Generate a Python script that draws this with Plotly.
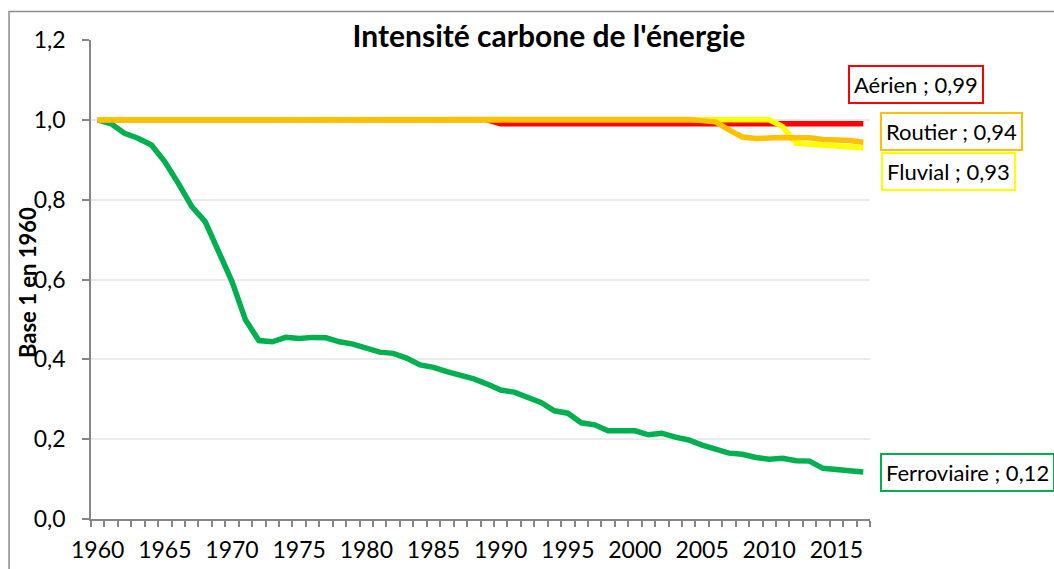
import plotly.graph_objects as go

years = list(range(1960, 2018))

ferroviaire = [1.000, 0.990, 0.966, 0.954, 0.937, 0.895, 0.841, 0.783, 0.745, 0.670,
               0.595, 0.499, 0.447, 0.444, 0.455, 0.452, 0.455, 0.454, 0.444, 0.438,
               0.428, 0.418, 0.415, 0.403, 0.386, 0.380, 0.369, 0.361, 0.351, 0.338,
               0.323, 0.318, 0.305, 0.292, 0.271, 0.265, 0.241, 0.236, 0.221, 0.221,
               0.221, 0.211, 0.215, 0.205, 0.198, 0.185, 0.175, 0.165, 0.162, 0.154,
               0.150, 0.152, 0.146, 0.145, 0.127, 0.125, 0.120, 0.118]

aerien = [1.000, 1.000, 1.000, 1.000, 1.000, 1.000, 1.000, 1.000, 1.000, 1.000,
          1.000, 1.000, 1.000, 1.000, 1.000, 1.000, 1.000, 1.000, 1.000, 1.000,
          1.000, 1.000, 1.000, 1.000, 1.000, 1.000, 1.000, 1.000, 1.000, 1.000,
          0.990, 0.990, 0.990, 0.990, 0.990, 0.990, 0.990, 0.990, 0.990, 0.990,
          0.990, 0.990, 0.990, 0.990, 0.990, 0.990, 0.990, 0.990, 0.990, 0.990,
          0.990, 0.990, 0.990, 0.990, 0.990, 0.990, 0.990, 0.990]

routier = [1.000, 1.000, 1.000, 1.000, 1.000, 1.000, 1.000, 1.000, 1.000, 1.000,
           1.000, 1.000, 1.000, 1.000, 1.000, 1.000, 1.000, 1.000, 1.000, 1.000,
           1.000, 1.000, 1.000, 1.000, 1.000, 1.000, 1.003, 1.003, 1.003, 1.003,
           1.003, 1.003, 1.003, 1.003, 1.003, 1.003, 1.001, 1.001, 1.001, 1.001,
           1.001, 1.001, 1.001, 1.001, 1.001, 0.998, 0.995, 0.975, 0.957, 0.953,
           0.955, 0.956, 0.955, 0.955, 0.951, 0.950, 0.948, 0.944]

fluvial = [1.000, 1.000, 1.000, 1.000, 1.000, 1.000, 1.000, 1.000, 1.000, 1.000,
           1.000, 1.000, 1.000, 1.000, 1.000, 1.000, 1.000, 1.000, 1.000, 1.000,
           1.000, 1.000, 1.000, 1.000, 1.000, 1.000, 1.000, 1.000, 1.000, 1.000,
           1.000, 1.000, 1.000, 1.000, 1.000, 1.000, 1.000, 1.000, 1.000, 1.000,
           1.000, 1.000, 1.000, 1.000, 1.000, 1.000, 1.000, 1.000, 1.000, 1.000,
           1.000, 0.983, 0.941, 0.939, 0.937, 0.935, 0.934, 0.930]

series_names = ["Ferroviaire", "Aérien", "Fluvial", "Routier"]
series_values = [ferroviaire, aerien, fluvial, routier]
series_colors = ["#00B050", "#FF0000", "#FFFF00", "#FFC000"]
end_labels = ["Ferroviaire ; 0,12", "Aérien ; 0,99", "Fluvial ; 0,93", "Routier ; 0,94"]

title_text = "Intensité carbone de l'énergie"
y_title = "Base 1 en 1960"

W, H = 1054, 569
L, R_px = 91, 870.5
T, B_px = 39.5, 519.5
pw, ph = R_px - L, B_px - T


def px(xp):
    return (xp - L) / pw


def py(yp):
    return (B_px - yp) / ph


FONT = "Lato, 'Open Sans', sans-serif"

fig = go.Figure()
for name, vals, col in zip(series_names, series_values, series_colors):
    fig.add_trace(go.Scatter(x=years, y=vals, mode="lines", name=name,
                             line=dict(color=col, width=5.5),
                             showlegend=False))

# end labels: (x px, center y px, anchor)
label_pos = {
    "Ferroviaire": (880.7, 473.0, "left"),
    "Aérien": (916.7, 84.5, "center"),
    "Fluvial": (949.5, 171.7, "center"),
    "Routier": (951.9, 130.8, "center"),
}
annotations = []
for name, txt, col in zip(series_names, end_labels, series_colors):
    xp, yp, anc = label_pos[name]
    annotations.append(dict(
        x=px(xp), y=py(yp), xref="paper", yref="paper",
        text=txt, showarrow=False, xanchor=anc, yanchor="middle",
        font=dict(family=FONT, size=22, color="#000000"),
        bgcolor="#FFFFFF", bordercolor=col, borderwidth=2, borderpad=4,
    ))

annotations.append(dict(
    x=px(28), y=py(283), xref="paper", yref="paper",
    text="<b>" + y_title + "</b>", showarrow=False, textangle=-90,
    xanchor="center", yanchor="middle",
    font=dict(family=FONT, size=22, color="#000000"),
))

fig.update_layout(
    width=W, height=H,
    margin=dict(l=L, r=W - R_px, t=T, b=H - B_px, autoexpand=False),
    paper_bgcolor="#FFFFFF", plot_bgcolor="#FFFFFF",
    separators=", ",
    title=dict(text="<b>" + title_text + "</b>", x=549 / W, xanchor="center",
               y=1 - 36 / H, yanchor="middle", yref="container",
               font=dict(family=FONT, size=30, color="#000000")),
    annotations=annotations,
    font=dict(family=FONT, size=22, color="#000000"),
    shapes=[dict(type="rect", xref="paper", yref="paper",
                 x0=px(9), x1=px(1080), y0=py(590), y1=py(11),
                 line=dict(color="#8C8C8C", width=1.5), fillcolor="rgba(0,0,0,0)",
                 layer="below")],
)

fig.update_xaxes(
    range=[1959.5, 2017.5], tickmode="linear", tick0=1960, dtick=5,
    ticks="", showgrid=False, zeroline=False,
    showline=True, linecolor="#868686", linewidth=1.5,
    tickfont=dict(family=FONT, size=23, color="#000000"),
    ticklabelstandoff=10,
    minor=dict(ticks="outside", tick0=1959.5, dtick=1, ticklen=6,
               tickcolor="#868686", tickwidth=1.5, showgrid=False),
)
fig.update_yaxes(
    range=[0, 1.2], tickmode="linear", tick0=0, dtick=0.2, tickformat=".1f",
    ticks="outside", ticklen=7, tickcolor="#868686", tickwidth=1.5,
    showgrid=True, gridcolor="#EBEBEB", gridwidth=1.5, zeroline=False,
    showline=True, linecolor="#868686", linewidth=1.5,
    tickfont=dict(family=FONT, size=23, color="#000000"),
    ticklabelstandoff=12,
)

fig.write_html("out.html", config={"displayModeBar": False},
               post_script="document.body.style.margin='0px';")
